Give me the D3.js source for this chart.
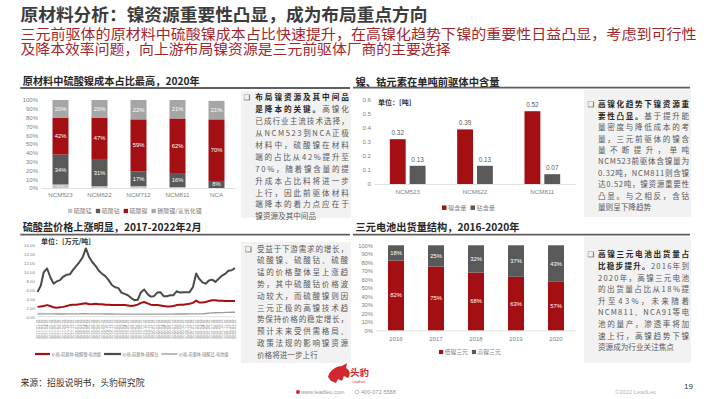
<!DOCTYPE html>
<html lang="zh-CN">
<head>
<meta charset="utf-8">
<script src="https://cdn.jsdelivr.net/npm/d3@7"></script>
<style>
  body { margin: 0; background: #fff; }
  svg { display: block; font-family: "Noto Sans CJK SC", "Noto Sans", sans-serif; }
</style>
</head>
<body>
<div id="page"></div>
<script>
/* 原材料分析 slide: four small charts with commentary boxes */

// ---- chart 1: 原材料成本占比, 2020 ----
const costCats = ["NCM523", "NCM622", "NCM712", "NCM811", "NCA"];
const costKeys = ["硫酸锰", "硫酸钴", "硫酸镍", "碳酸锂/氢氧化锂"];
const costMn = [4, 2, 2, 1, 0];
const costCo = [34, 31, 17, 16, 8];
const costNi = [42, 47, 59, 62, 70];
const costLi = [20, 20, 22, 21, 21];
const pctTicks = [0, 10, 20, 30, 40, 50, 60, 70, 80, 90, 100];

// ---- chart 2: 单吨前驱体镍钴含量 ----
const contentCats = ["NCM523", "NCM622", "NCM811"];
const contentKeys = ["镍含量", "钴含量"];
const contentNi = [0.32, 0.39, 0.52];
const contentCo = [0.13, 0.13, 0.07];
const contentTicks = [0, 0.1, 0.2, 0.3, 0.4, 0.5, 0.6];

// ---- chart 3: 硫酸盐价格 (万元/吨), monthly 2017-01 .. 2022-02 ----
const priceKeys = ["价格:前驱体:硫酸镍:电池级", "价格:前驱体:硫酸钴", "价格:前驱体:硫酸锰:电池级"];
const priceNi = [2.2, 2.3, 2.4, 2.6, 2.4, 2.1, 2.0, 2.1, 2.2, 2.4,
  2.6, 2.7, 2.7, 2.8, 2.9, 3.0, 2.8, 2.8, 2.9, 2.8,
  2.8, 2.7, 2.7, 2.6, 2.6, 2.6, 2.6, 2.6, 2.5, 2.4,
  2.5, 2.7, 3.1, 3.3, 3.0, 2.7, 2.6, 2.6, 2.5, 2.4,
  2.3, 2.3, 2.4, 2.6, 2.7, 2.7, 2.8, 2.9, 3.1, 3.6,
  3.2, 3.2, 3.3, 3.5, 3.7, 3.7, 3.6, 3.6, 3.5, 3.5,
  3.5, 3.5];
const priceCo = [5.5, 7.0, 10.0, 10.8, 8.9, 7.4, 7.9, 8.2, 9.0, 9.4,
  9.5, 10.5, 11.4, 12.3, 13.3, 15.3, 13.4, 12.2, 11.4, 10.3,
  9.6, 9.1, 8.2, 7.1, 6.6, 6.4, 5.4, 5.1, 4.8, 4.2,
  3.7, 3.8, 5.5, 6.1, 5.1, 4.5, 4.6, 5.4, 5.5, 4.6,
  4.6, 4.8, 4.8, 5.7, 5.4, 5.5, 5.5, 5.5, 6.6, 9.7,
  8.5, 7.7, 7.4, 8.1, 8.3, 7.8, 8.5, 9.2, 9.6, 10.3,
  10.4, 10.9];
const priceMn = [0.60, 0.62, 0.64, 0.65, 0.64, 0.62, 0.60, 0.60, 0.61, 0.62,
  0.63, 0.64, 0.65, 0.65, 0.66, 0.66, 0.65, 0.64, 0.63, 0.62,
  0.62, 0.61, 0.60, 0.60, 0.59, 0.58, 0.58, 0.57, 0.57, 0.56,
  0.56, 0.57, 0.58, 0.58, 0.57, 0.56, 0.56, 0.56, 0.57, 0.57,
  0.58, 0.58, 0.59, 0.60, 0.60, 0.60, 0.61, 0.62, 0.62, 0.63,
  0.64, 0.66, 0.72, 0.80, 0.85, 0.88, 0.90, 0.92, 0.95, 0.97,
  1.00, 1.00];
const priceTicks = [0, 2, 4, 6, 8, 10, 12, 14, 16];

// ---- chart 4: 三元电池出货量结构 ----
const shipYears = ["2016", "2017", "2018", "2019", "2020"];
const shipKeys = ["低镍三元", "高镍三元"];
const shipLow = [82, 75, 68, 63, 57];
const shipHigh = [18, 25, 32, 37, 43];

// ---- texts ----
const pageTitle = "原材料分析：镍资源重要性凸显，成为布局重点方向";
const pageSub = ["三元前驱体的原材料中硫酸镍成本占比快速提升，在高镍化趋势下镍的重要性日益凸显，考虑到可行性",
  "及降本效率问题，向上游布局镍资源是三元前驱体厂商的主要选择"];
const noteTL = [["布局镍资源及其中间品", ""], ["是降本的关键。", "高镍化"], ["", "已成行业主流技术选择，"],
  ["", "从NCM523到NCA正极"], ["", "材料中，硫酸镍在材料"], ["", "端的占比从42%提升至"],
  ["", "70%，随着镍含量的提"], ["", "升成本占比料将进一步"], ["", "上行，因此前驱体材料"],
  ["", "端降本的着力点应在于"], ["", "镍资源及其中间品", false]];
const noteTR = [["高镍化趋势下镍资源重", ""], ["要性凸显。", "基于提升能"], ["", "量密度与降低成本的考"],
  ["", "量，三元前驱体的镍含"], ["", "量不断提升，单吨"], ["", "NCM523前驱体含镍量为"],
  ["", "0.32吨，NCM811则含镍"], ["", "达0.52吨，镍资源重要性"], ["", "凸显。与之相反，含钴"],
  ["", "量则呈下降趋势", false]];
const noteBL = [["", "受益于下游需求的增长，"], ["", "硫酸镍、硫酸钴、硫酸"], ["", "锰的价格整体呈上涨趋"],
  ["", "势，其中硫酸钴价格波"], ["", "动较大，而硫酸镍则因"], ["", "三元正极的高镍技术趋"],
  ["", "势保持价格的稳定增长，"], ["", "预计未来受供需格局、"], ["", "政策法规的影响镍资源"],
  ["", "价格将进一步上行", false]];
const noteBR = [["高镍三元电池出货量占", ""], ["比稳步提升。", "2016年到"], ["", "2020年，高镍三元电池"],
  ["", "的出货量占比从18%提"], ["", "升至43%，未来随着"], ["", "NCM811、NCA91等电"],
  ["", "池的量产，渗透率将加"], ["", "速上行，高镍趋势下镍"], ["", "资源成为行业关注焦点", false]];

const RED = "#a30f12", DARK = "#595959", LIGHT = "#a6a6a6", PALE = "#c4c4c4";
const NUM = "'Liberation Sans', Arial, sans-serif";
const AX = "#7f7f7f";

const svg = d3.select("#page").append("svg").attr("width", 710).attr("height", 399);

// header
svg.append("text").attr("x", 20.5).attr("y", 21).attr("font-size", 17).attr("font-weight", "bold")
  .attr("fill", "#3c3c3c").attr("textLength", 407).attr("lengthAdjust", "spacingAndGlyphs").text(pageTitle);
svg.append("text").attr("x", 20.5).attr("y", 38.5).attr("font-size", 13.5).attr("fill", "#a3262b")
  .attr("textLength", 676).attr("lengthAdjust", "spacingAndGlyphs").text(pageSub[0]);
svg.append("text").attr("x", 20.5).attr("y", 54).attr("font-size", 13.5).attr("fill", "#a3262b")
  .attr("textLength", 430).attr("lengthAdjust", "spacingAndGlyphs").text(pageSub[1]);

function section(x, y, len, x2, ly, text) {
  svg.append("text").attr("x", x).attr("y", y).attr("font-size", 10.4).attr("font-weight", "bold")
    .attr("fill", "#262626").attr("textLength", len).attr("lengthAdjust", "spacingAndGlyphs").text(text);
  svg.append("line").attr("x1", x - 2.5).attr("x2", x2).attr("y1", ly).attr("y2", ly)
    .attr("stroke", "#5f5f5f").attr("stroke-width", 1.8);
}
section(22.7, 85.3, 177, 350, 88, "原材料中硫酸镍成本占比最高，2020年");
section(355.5, 85.5, 144, 690, 87.6, "镍、钴元素在单吨前驱体中含量");
section(22.7, 231, 179, 350, 234.6, "硫酸盐价格上涨明显，2017-2022年2月");
section(355.5, 230.5, 164, 690, 234.6, "三元电池出货量结构，2016-2020年");

function styleAxis(g, size, keepDomain) {
  if (keepDomain) g.select(".domain").attr("stroke", "#d9d9d9").attr("stroke-width", 0.8);
  else g.select(".domain").remove();
  g.selectAll(".tick line").remove();
  g.selectAll("text").attr("fill", AX).attr("font-size", size).attr("font-family", NUM);
}

function legend(x, y, items, size, gap) {
  const g = svg.append("g").attr("transform", `translate(${x},${y})`);
  let cx = 0;
  items.forEach(it => {
    if (it.line) {
      g.append("line").attr("x1", cx).attr("x2", cx + it.line).attr("y1", 0).attr("y2", 0)
        .attr("stroke", it.color).attr("stroke-width", it.sw);
      cx += it.line + 1.5;
    } else {
      g.append("rect").attr("x", cx).attr("y", -size * 0.36).attr("width", size * 0.72).attr("height", size * 0.72)
        .attr("fill", it.color);
      cx += size * 0.72 + 1.5;
    }
    const t = g.append("text").attr("x", cx).attr("y", size * 0.36).attr("font-size", size)
      .attr("fill", AX).text(it.label);
    cx += t.node().getComputedTextLength() + gap;
  });
}

// ---- chart 1 ----
(function () {
  const rows = costCats.map((c, i) => ({ cat: c, "硫酸锰": costMn[i], "硫酸钴": costCo[i], "硫酸镍": costNi[i], "碳酸锂/氢氧化锂": costLi[i] }));
  const color = d3.scaleOrdinal().domain(costKeys).range([PALE, DARK, RED, LIGHT]);
  const x = d3.scaleBand().domain(costCats).range([41, 236]).paddingInner(0.59).paddingOuter(0.295);
  const y = d3.scaleLinear().domain([0, 100]).range([188, 100]);

  styleAxis(svg.append("g").attr("transform", "translate(39,0)")
    .call(d3.axisLeft(y).tickValues(pctTicks).tickFormat(d => d + "%").tickSize(0).tickPadding(1)), 6);
  styleAxis(svg.append("g").attr("transform", "translate(0,188)")
    .call(d3.axisBottom(x).tickSize(0).tickPadding(5)), 6.2, true);

  const series = d3.stack().keys(costKeys)(rows);
  const g = svg.append("g");
  series.forEach(s => {
    g.append("g").selectAll("rect").data(s).join("rect")
      .attr("x", d => x(d.data.cat)).attr("width", x.bandwidth())
      .attr("y", d => y(d[1])).attr("height", d => y(d[0]) - y(d[1]))
      .attr("fill", color(s.key));
    g.append("g").selectAll("text").data(s.filter(d => d[1] > d[0])).join("text")
      .attr("x", d => x(d.data.cat) + x.bandwidth() / 2)
      .attr("y", d => (y(d[0]) + y(d[1])) / 2 + 2)
      .attr("text-anchor", "middle").attr("font-size", 5.8).attr("font-family", NUM)
      .attr("fill", s.key === "硫酸锰" ? "#e8e8e8" : "#fff")
      .text(d => (d[1] - d[0]) + "%");
  });
  legend(68, 211, costKeys.map(k => ({ label: k, color: color(k) })), 6, 4);
})();

// ---- chart 2 ----
(function () {
  const rows = contentCats.map((c, i) => ({ cat: c, vals: [contentNi[i], contentCo[i]] }));
  const x = d3.scaleBand().domain(contentCats).range([374, 576]);
  const bw = x.bandwidth();
  const x1 = d3.scaleBand().domain(contentKeys).range([bw * 0.235, bw * 0.765]).paddingInner(0.2);
  const y = d3.scaleLinear().domain([0, 0.6]).range([184, 100]);
  const color = d3.scaleOrdinal().domain(contentKeys).range([RED, DARK]);

  styleAxis(svg.append("g").attr("transform", "translate(372,0)")
    .call(d3.axisLeft(y).tickValues(contentTicks).tickFormat(d => d === 0 ? "0" : d.toFixed(1)).tickSize(0).tickPadding(1)), 6.2);
  styleAxis(svg.append("g").attr("transform", "translate(0,184)")
    .call(d3.axisBottom(x).tickSize(0).tickPadding(6)), 6.2, true);

  svg.append("text").attr("x", 378).attr("y", 104.5).attr("font-size", 7).attr("font-weight", "bold")
    .attr("fill", "#333").text("单位：[吨]");

  const gg = svg.append("g").selectAll("g").data(rows).join("g")
    .attr("transform", d => `translate(${x(d.cat)},0)`);
  gg.selectAll("rect").data(d => d.vals.map((v, j) => ({ k: contentKeys[j], v }))).join("rect")
    .attr("x", d => x1(d.k)).attr("width", x1.bandwidth())
    .attr("y", d => y(d.v)).attr("height", d => y(0) - y(d.v)).attr("fill", d => color(d.k));
  gg.selectAll("text").data(d => d.vals.map((v, j) => ({ k: contentKeys[j], v }))).join("text")
    .attr("x", d => x1(d.k) + x1.bandwidth() / 2).attr("y", d => y(d.v) - 4)
    .attr("text-anchor", "middle").attr("font-size", 6.4).attr("font-family", NUM).attr("fill", DARK)
    .text(d => d.v.toFixed(2));
  legend(442, 207.7, contentKeys.map(k => ({ label: k, color: color(k) })), 6.2, 4);
})();

// ---- chart 3 ----
(function () {
  const months = d3.timeMonth.range(new Date(2017, 0, 1), new Date(2022, 2, 1));
  const x = d3.scaleTime().domain([months[0], months[months.length - 1]]).range([37.5, 235]);
  const y = d3.scaleLinear().domain([0, 16]).range([316.7, 245.3]);

  styleAxis(svg.append("g").attr("transform", "translate(36,0)")
    .call(d3.axisLeft(y).tickValues(priceTicks).tickFormat(d3.format(".2f")).tickSize(0).tickPadding(1)), 4.4);
  svg.append("line").attr("x1", 37).attr("x2", 236).attr("y1", y(0)).attr("y2", y(0))
    .attr("stroke", "#d9d9d9").attr("stroke-width", 0.8);

  svg.append("text").attr("x", 41).attr("y", 243.5).attr("font-size", 7).attr("font-weight", "bold")
    .attr("fill", "#333").text("单位：[万元/吨]");

  const fmt = d3.timeFormat("%Y-%m-%d");
  svg.append("g").selectAll("text").data(months).join("text")
    .attr("transform", d => `translate(${x(d)},319) rotate(-90)`)
    .attr("text-anchor", "end").attr("dy", "0.35em").attr("font-size", 3.9).attr("font-family", NUM)
    .attr("fill", AX).text(fmt);

  const line = d3.line().x((d, i) => x(months[i])).y(d => y(d));
  const sets = [
    { vals: priceMn, color: "#9d9d9d", sw: 1.3 },
    { vals: priceNi, color: RED, sw: 2 },
    { vals: priceCo, color: "#4a4a4a", sw: 2 }
  ];
  sets.forEach(s => {
    svg.append("path").datum(s.vals).attr("d", line).attr("fill", "none")
      .attr("stroke", s.color).attr("stroke-width", s.sw).attr("stroke-linejoin", "round");
  });
  legend(35, 354, [
    { label: priceKeys[0], color: RED, line: 15, sw: 2.2 },
    { label: priceKeys[1], color: "#4a4a4a", line: 17, sw: 2.2 },
    { label: priceKeys[2], color: "#9d9d9d", line: 16, sw: 1.4 }
  ], 4.2, 3);
})();

// ---- chart 4 ----
(function () {
  const rows = shipYears.map((yr, i) => ({ yr, "低镍三元": shipLow[i], "高镍三元": shipHigh[i] }));
  const color = d3.scaleOrdinal().domain(shipKeys).range([RED, DARK]);
  const x = d3.scaleBand().domain(shipYears).range([376, 576]).paddingInner(0.6).paddingOuter(0.3);
  const y = d3.scaleLinear().domain([0, 100]).range([330.3, 245.3]);

  styleAxis(svg.append("g").attr("transform", "translate(374,0)")
    .call(d3.axisLeft(y).tickValues(pctTicks).tickFormat(d => d + "%").tickSize(0).tickPadding(1)), 5.8);
  styleAxis(svg.append("g").attr("transform", "translate(0,330.3)")
    .call(d3.axisBottom(x).tickSize(0).tickPadding(6)), 6, true);

  const series = d3.stack().keys(shipKeys)(rows);
  series.forEach(s => {
    svg.append("g").selectAll("rect").data(s).join("rect")
      .attr("x", d => x(d.data.yr)).attr("width", x.bandwidth())
      .attr("y", d => y(d[1])).attr("height", d => y(d[0]) - y(d[1])).attr("fill", color(s.key));
    svg.append("g").selectAll("text").data(s).join("text")
      .attr("x", d => x(d.data.yr) + x.bandwidth() / 2).attr("y", d => (y(d[0]) + y(d[1])) / 2 + 2)
      .attr("text-anchor", "middle").attr("font-size", 5.8).attr("font-family", NUM).attr("fill", "#fff")
      .text(d => (d[1] - d[0]) + "%");
  });
  legend(439, 352, shipKeys.map(k => ({ label: k, color: color(k) })), 5.8, 4);
})();

// ---- commentary boxes ----
function note(cfg, lines) {
  svg.append("rect").attr("x", cfg.x).attr("y", cfg.y).attr("width", cfg.w).attr("height", cfg.h).attr("fill", "#f2f2f2");
  svg.append("text").attr("x", cfg.bx).attr("y", cfg.y0).attr("font-size", 7.5)
    .attr("font-family", "'DejaVu Sans', sans-serif").attr("fill", "#333").text("❑");
  lines.forEach((ln, i) => {
    const t = svg.append("text").attr("x", cfg.tx).attr("y", cfg.y0 + i * cfg.lh).attr("font-size", 7.6);
    if (ln[0]) t.append("tspan").attr("font-weight", "bold").attr("fill", "#262626").text(ln[0]);
    if (ln[1]) t.append("tspan").attr("fill", "#595959").text(ln[1]);
    if (ln[2] !== false) {
      const L = t.node().getComputedTextLength();
      const n = Array.from(ln[0] + ln[1]).length;
      t.attr("letter-spacing", (cfg.tw - L) / (n - 1));
    }
  });
}
note({ x: 241, y: 91, w: 110, h: 127, bx: 243.5, tx: 255.3, tw: 93.5, y0: 100.3, lh: 11.9 }, noteTL);
note({ x: 584, y: 90, w: 107, h: 127, bx: 587.5, tx: 598, tw: 91, y0: 107.4, lh: 11.4 }, noteTR);
note({ x: 241, y: 242, w: 110, h: 121, bx: 245, tx: 257, tw: 91, y0: 251.5, lh: 11.8 }, noteBL);
note({ x: 584, y: 237, w: 107, h: 126, bx: 587.5, tx: 598, tw: 91, y0: 257.2, lh: 11.65 }, noteBR);

// ---- footer ----
svg.append("text").attr("x", 20.5).attr("y", 385.5).attr("font-size", 9).attr("fill", "#333")
  .attr("textLength", 124).attr("lengthAdjust", "spacingAndGlyphs").text("来源：招股说明书，头豹研究院");
svg.append("path").attr("fill", "#d0282e")
  .attr("d", "M328,377 C330,370 336,366 342,366 L347,363 L346,368 C350,370 351,375 348,378 L344,376 L342,381 L338,379 L336,383 L331,381 Z");
svg.append("text").attr("x", 350).attr("y", 376).attr("font-size", 9.5).attr("font-weight", "bold")
  .attr("fill", "#d0282e").text("头豹");
svg.append("text").attr("x", 352.5).attr("y", 382.5).attr("font-size", 3.2).attr("font-family", NUM)
  .attr("fill", "#d0282e").text("LeadLeo");
svg.append("circle").attr("cx", 298).attr("cy", 392).attr("r", 2).attr("fill", "#d0282e");
svg.append("text").attr("x", 301).attr("y", 394).attr("font-size", 5.6).attr("font-family", NUM)
  .attr("fill", "#999").text("www.leadleo.com");
svg.append("circle").attr("cx", 357).attr("cy", 392).attr("r", 1.8).attr("fill", "none").attr("stroke", "#999").attr("stroke-width", 0.6);
svg.append("text").attr("x", 361).attr("y", 394).attr("font-size", 5.6).attr("font-family", NUM)
  .attr("fill", "#999").text("400-072-5588");
svg.append("text").attr("x", 615).attr("y", 394).attr("font-size", 5.8).attr("font-family", NUM)
  .attr("fill", "#b5b5b5").text("©2022 LeadLeo");
svg.append("text").attr("x", 684).attr("y", 389).attr("font-size", 8).attr("font-family", NUM)
  .attr("fill", "#333").text("19");
</script>
</body>
</html>
